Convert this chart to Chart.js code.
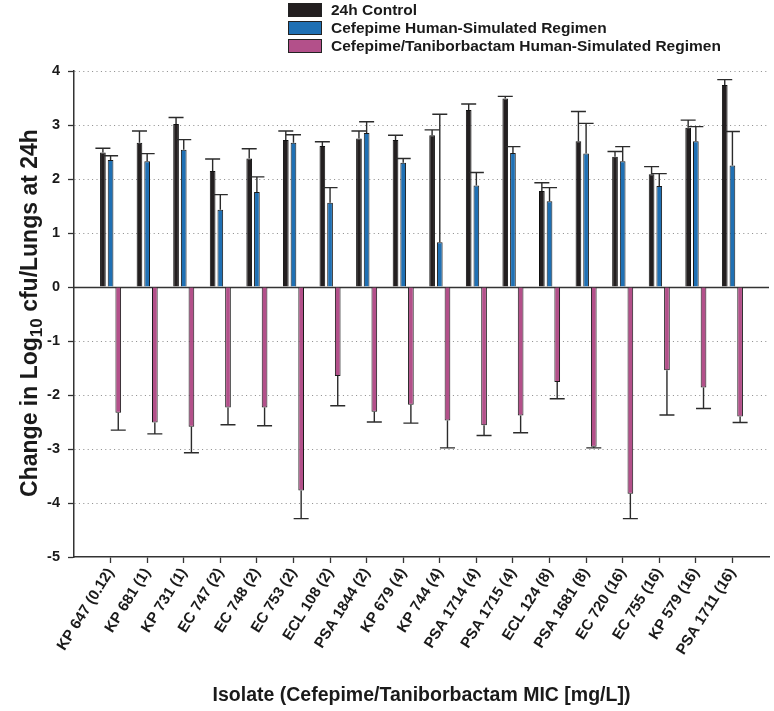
<!DOCTYPE html>
<html>
<head>
<meta charset="utf-8">
<script src="https://cdn.jsdelivr.net/npm/chart.js@4/dist/chart.umd.min.js"></script>
<style>
  html, body { margin: 0; padding: 0; background: #fff; }
  #wrap { width: 774px; height: 711px; position: relative; }
</style>
</head>
<body>
<div id="wrap"><canvas id="c" width="774" height="711"></canvas></div>
<script>
const isolates = ['KP 647 (0.12)', 'KP 681 (1)', 'KP 731 (1)', 'EC 747 (2)', 'EC 748 (2)', 'EC 753 (2)',
  'ECL 108 (2)', 'PSA 1844 (2)', 'KP 679 (4)', 'KP 744 (4)', 'PSA 1714 (4)', 'PSA 1715 (4)',
  'ECL 124 (8)', 'PSA 1681 (8)', 'EC 720 (16)', 'EC 755 (16)', 'KP 579 (16)', 'PSA 1711 (16)'];

const seriesNames = ['24h Control', 'Cefepime Human-Simulated Regimen', 'Cefepime/Taniborbactam Human-Simulated Regimen'];

const control    = [2.49, 2.67, 3.02, 2.15, 2.38, 2.72, 2.61, 2.75, 2.72, 2.81, 3.28, 3.49, 1.78, 2.70, 2.41, 2.09, 2.95, 3.74];
const controlErr = [0.08, 0.22, 0.12, 0.22, 0.18, 0.17, 0.08, 0.14, 0.09, 0.10, 0.11, 0.04, 0.15, 0.55, 0.10, 0.14, 0.14, 0.10];

const cefepime    = [2.35, 2.33, 2.54, 1.43, 1.76, 2.67, 1.56, 2.85, 2.30, 0.83, 1.88, 2.48, 1.59, 2.47, 2.33, 1.87, 2.70, 2.25];
const cefepimeErr = [0.08, 0.14, 0.19, 0.28, 0.28, 0.15, 0.28, 0.21, 0.08, 2.37, 0.24, 0.12, 0.25, 0.56, 0.27, 0.23, 0.27, 0.63];

const combo    = [-2.33, -2.51, -2.59, -2.23, -2.23, -3.77, -1.65, -2.31, -2.18, -2.47, -2.56, -2.38, -1.76, -2.96, -3.83, -1.54, -1.86, -2.40];
const comboErr = [0.32, 0.21, 0.48, 0.32, 0.34, 0.52, 0.55, 0.19, 0.34, 0.51, 0.19, 0.32, 0.31, 0.02, 0.46, 0.83, 0.39, 0.11];

const yTicks = [-5, -4, -3, -2, -1, 0, 1, 2, 3, 4];

const colors = ['#231f20', '#1f70b4', '#b3508a'];
const FONT = '"Liberation Sans", Arial, Helvetica, sans-serif';

function pts(arr) { return arr.map((v, i) => ({ x: i + 1, y: v })); }

const errors = [controlErr, cefepimeErr, comboErr];

const errorBarPlugin = {
  id: 'errorBars',
  afterDatasetsDraw(chart) {
    const ctx = chart.ctx;
    const yS = chart.scales.y;
    ctx.save();
    ctx.strokeStyle = '#2b2b2b';
    ctx.lineWidth = 1.4;
    chart.data.datasets.forEach((ds, di) => {
      const meta = chart.getDatasetMeta(di);
      meta.data.forEach((bar, j) => {
        const v = ds.data[j].y;
        const e = errors[di][j];
        const end = v >= 0 ? v + e : v - e;
        const y0 = yS.getPixelForValue(v);
        const y1 = yS.getPixelForValue(end);
        const x = bar.x;
        const half = 7.5;
        ctx.beginPath();
        ctx.moveTo(x, y0);
        ctx.lineTo(x, y1);
        ctx.moveTo(x - half, y1);
        ctx.lineTo(x + half, y1);
        ctx.stroke();
      });
    });
    ctx.restore();
  }
};

const zeroLinePlugin = {
  id: 'zeroLine',
  beforeDatasetsDraw(chart) {
    const ctx = chart.ctx;
    const a = chart.chartArea;
    const y = Math.round(chart.scales.y.getPixelForValue(0)) + 0.5;
    ctx.save();
    ctx.strokeStyle = '#333';
    ctx.lineWidth = 1.5;
    ctx.beginPath();
    ctx.moveTo(a.left, y);
    ctx.lineTo(a.right, y);
    ctx.stroke();
    ctx.restore();
  }
};

const legendPlugin = {
  id: 'customLegend',
  afterDraw(chart) {
    const ctx = chart.ctx;
    ctx.save();
    ctx.font = 'bold 15.5px ' + FONT;
    ctx.textBaseline = 'middle';
    ctx.textAlign = 'left';
    chart.data.datasets.forEach((ds, i) => {
      const cy = 10 + i * 18;
      ctx.fillStyle = ds.backgroundColor;
      ctx.fillRect(288, cy - 7, 34, 14);
      ctx.strokeStyle = '#222';
      ctx.lineWidth = 1;
      ctx.strokeRect(288.5, cy - 6.5, 33, 13);
      ctx.fillStyle = '#1a1a1a';
      ctx.fillText(ds.label, 331, cy + 1);
    });
    ctx.restore();
  }
};

const yTitlePlugin = {
  id: 'yTitle',
  afterDraw(chart) {
    const ctx = chart.ctx;
    const a = chart.chartArea;
    const cy = (a.top + a.bottom) / 2 - 1;
    const big = 'bold 23px ' + FONT;
    const small = 'bold 17px ' + FONT;
    const parts = [['Change in Log', big, 0], ['10', small, 6], [' cfu/Lungs at 24h', big, 0]];
    ctx.save();
    let total = 0;
    parts.forEach(p => { ctx.font = p[1]; total += ctx.measureText(p[0]).width; });
    ctx.translate(31, cy);
    ctx.rotate(-Math.PI / 2);
    ctx.fillStyle = '#1a1a1a';
    ctx.textBaseline = 'middle';
    ctx.textAlign = 'left';
    let x = -total / 2;
    parts.forEach(p => {
      ctx.font = p[1];
      ctx.fillText(p[0], x, p[2]);
      x += ctx.measureText(p[0]).width;
    });
    ctx.restore();
  }
};

new Chart(document.getElementById('c'), {
  type: 'bar',
  data: {
    datasets: [
      { label: seriesNames[0], data: pts(control), backgroundColor: colors[0], borderColor: '#111', borderWidth: 1 },
      { label: seriesNames[1], data: pts(cefepime), backgroundColor: colors[1], borderColor: '#1a1a1a', borderWidth: 1 },
      { label: seriesNames[2], data: pts(combo), backgroundColor: colors[2], borderColor: '#1a1a1a', borderWidth: 1 }
    ]
  },
  options: {
    responsive: false,
    animation: false,
    devicePixelRatio: 1,
    categoryPercentage: 0.63,
    barPercentage: 0.74,
    layout: { padding: { top: 71, right: 5, left: 0, bottom: 0 } },
    plugins: { legend: { display: false }, tooltip: { enabled: false } },
    scales: {
      x: {
        type: 'linear',
        min: 0,
        max: 19,
        offset: false,
        afterBuildTicks(s) { s.ticks = isolates.map((_, i) => ({ value: i + 1 })); },
        afterFit(s) { s.height = 154; },
        ticks: {
          autoSkip: false,
          includeBounds: false,
          stepSize: 1,
          minRotation: 58,
          maxRotation: 58,
          padding: 2,
          color: '#1a1a1a',
          font: { family: FONT, size: 15, weight: 'bold' },
          callback: (v) => isolates[v - 1] || ''
        },
        grid: { display: true, offset: false, drawOnChartArea: false, color: 'transparent', tickColor: '#333', tickLength: 6, tickWidth: 1.3 },
        border: { display: true, color: '#333', width: 1.5 },
        title: {
          display: true,
          text: 'Isolate (Cefepime/Taniborbactam MIC [mg/L])',
          color: '#1a1a1a',
          font: { family: FONT, size: 19.5, weight: 'bold' },
          padding: { top: 0, bottom: 4 }
        }
      },
      y: {
        min: -5,
        max: 4,
        afterBuildTicks(s) { s.ticks = yTicks.map(v => ({ value: v })); },
        afterFit(s) { s.width = 74; },
        ticks: {
          stepSize: 1,
          padding: 8,
          color: '#1a1a1a',
          font: { family: FONT, size: 14.5, weight: 'bold' }
        },
        grid: {
          color: (c) => (c.tick && (c.tick.value === 0 || c.tick.value === -5)) ? 'transparent' : '#8a8a8a',
          lineWidth: 1,
          tickColor: '#333',
          tickLength: 6,
          tickWidth: 1.3
        },
        border: { display: true, color: '#333', width: 1.5, dash: [1, 3.4] }
      }
    }
  },
  plugins: [zeroLinePlugin, errorBarPlugin, legendPlugin, yTitlePlugin]
});
</script>
</body>
</html>
